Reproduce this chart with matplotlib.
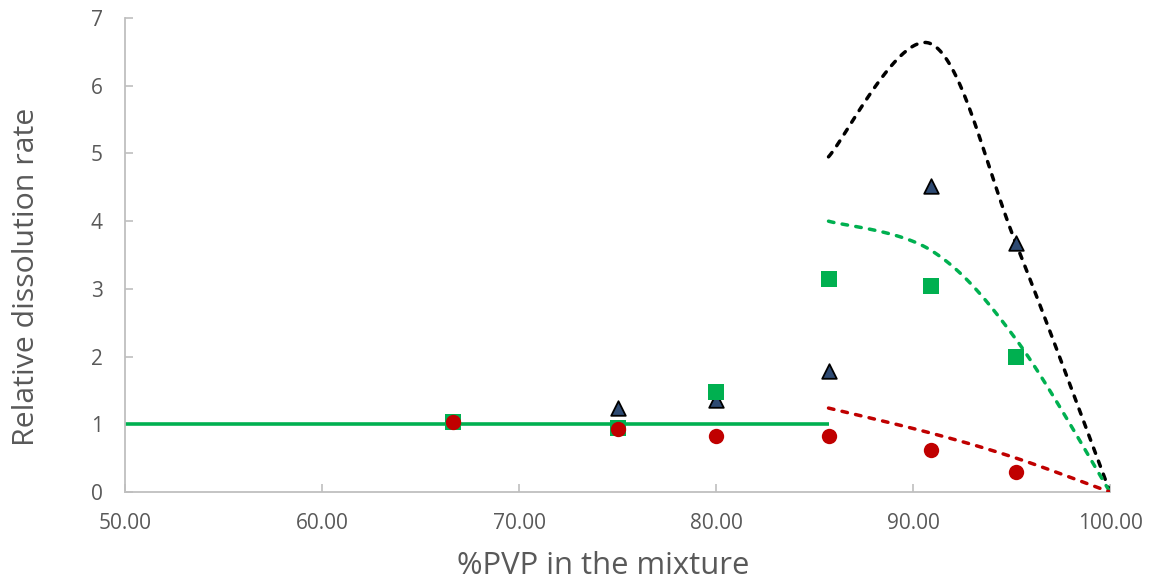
#!/usr/bin/env python3

"""
Relative dissolution rate vs %PVP in the mixture.
"""

import numpy as np
import matplotlib
matplotlib.use("Agg")
import matplotlib.pyplot as plt

# measured points
pvp = [66.67, 75.00, 80.00, 85.71, 90.91, 95.24]
rate_circle = [1.04, 0.93, 0.83, 0.83, 0.62, 0.30]
rate_square = [1.04, 0.95, 1.47, 3.15, 3.04, 1.99]
rate_triangle = [None, 1.24, 1.36, 1.78, 4.52, 3.68]

# reference line (rate = 1)
ref_x = [50.0, 85.71]
ref_y = [1.0, 1.0]

# predicted curves
pred_x = [85.71, 90.91, 95.24, 100.00]
pred_black = [4.95, 6.62, 3.66, 0.0]
pred_green = [4.00, 3.57, 2.25, 0.0]
pred_red = [1.24, 0.87, 0.50, 0.0]

x_ticks = [50, 60, 70, 80, 90, 100]
y_ticks = [0, 1, 2, 3, 4, 5, 6, 7]


def smooth(xs, ys, n=40):
    # Catmull-Rom style smoothing like a spreadsheet "smoothed line"
    xs = np.asarray(xs, float)
    ys = np.asarray(ys, float)
    px = np.concatenate([[xs[0]], xs, [xs[-1]]])
    py = np.concatenate([[ys[0]], ys, [ys[-1]]])
    out_x, out_y = [], []
    for i in range(1, len(px) - 2):
        p0 = np.array([px[i], py[i]])
        p3 = np.array([px[i + 1], py[i + 1]])
        c1 = p0 + (p3 - np.array([px[i - 1], py[i - 1]])) / 6
        c2 = p3 - (np.array([px[i + 2], py[i + 2]]) - p0) / 6
        t = np.linspace(0, 1, n)[:, None]
        pts = ((1 - t) ** 3) * p0 + 3 * ((1 - t) ** 2) * t * c1 + 3 * (1 - t) * t ** 2 * c2 + t ** 3 * p3
        out_x.extend(pts[:, 0])
        out_y.extend(pts[:, 1])
    return out_x, out_y


plt.rcParams["font.family"] = ["Open Sans", "DejaVu Sans"]

fig = plt.figure(figsize=(11.51, 5.82), dpi=100)
ax = fig.add_axes([0.1086, 0.1546, 0.8558, 0.8144])

green = "#00B050"
red = "#C00000"
navy = "#2E4A72"

ax.plot(ref_x, ref_y, color=green, lw=2.6, solid_capstyle="butt", zorder=2)

for ys, col in [(pred_black, "black"), (pred_green, green), (pred_red, red)]:
    sx, sy = smooth(pred_x, ys)
    ax.plot(sx, sy, color=col, lw=2.5, ls=(0, (1.6, 2.4)),
            dash_capstyle="round", zorder=3)

tx = [x for x, y in zip(pvp, rate_triangle) if y is not None]
ty = [y for y in rate_triangle if y is not None]
ax.scatter(tx, ty, marker="^", s=110, color=navy, edgecolors="black", linewidths=1.3, zorder=4)
ax.scatter(pvp, rate_square, marker="s", s=118, color=green, linewidths=0, zorder=5)
ax.scatter(pvp, rate_circle, marker="o", s=122, color=red, linewidths=0, zorder=6)

ax.set_xlim(50, 100)
ax.set_ylim(0, 7)
ax.set_xticks(x_ticks)
ax.set_xticklabels([f"{v:.2f}" for v in x_ticks])
ax.set_yticks(y_ticks)

for s in ["top", "right"]:
    ax.spines[s].set_visible(False)
for s in ["left", "bottom"]:
    ax.spines[s].set_color("#BFBFBF")
    ax.spines[s].set_linewidth(1.3)

ax.tick_params(direction="in", length=6, width=1.2, color="#BFBFBF",
               labelcolor="#595959", labelsize=15)
ax.tick_params(axis="x", pad=15)
ax.tick_params(axis="y", pad=16)

ax.set_xlabel("%PVP in the mixture", fontsize=22.3, color="#595959")
ax.set_ylabel("Relative dissolution rate", fontsize=21.8, color="#595959")
ax.xaxis.set_label_coords(0.485, -0.124)
ax.yaxis.set_label_coords(-0.085, 0.454)

fig.savefig("out.png", dpi=100)
plt.close(fig)
